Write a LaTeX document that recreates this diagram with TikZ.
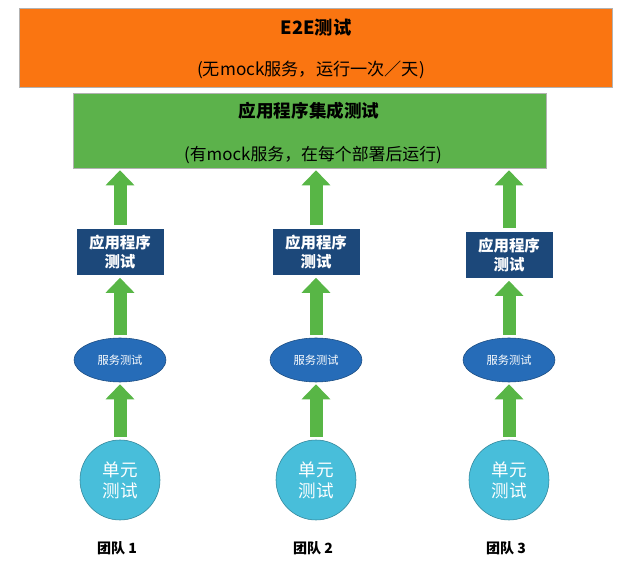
\documentclass[tikz,border=0pt]{standalone}
\usepackage{fontspec}
\setmainfont{Noto Sans CJK SC}
\usetikzlibrary{arrows.meta,shapes.geometric}
\definecolor{e2eorange}{RGB}{250,117,17}
\definecolor{integgreen}{RGB}{92,178,75}
\definecolor{appnavy}{RGB}{28,72,122}
\definecolor{svcblue}{RGB}{38,108,184}
\definecolor{unitcyan}{RGB}{72,190,218}
\definecolor{arrowgreen}{RGB}{88,182,70}
\tikzset{
    bigbox/.style={draw=gray!60,minimum width=#1,inner sep=0pt},
    appbox/.style={fill=appnavy,draw=white,minimum width=88*0.025cm,minimum height=47*0.025cm,
        text=white,font=\fontsize{11}{13}\selectfont\bfseries,align=center,inner sep=0pt},
    svc/.style={ellipse,fill=svcblue,draw=svcblue!70!black,minimum width=92*0.025cm,
        minimum height=44*0.025cm,text=white,font=\fontsize{8}{10}\selectfont,inner sep=0pt},
    unit/.style={circle,fill=unitcyan,draw=unitcyan!70!black,minimum size=80*0.025cm,
        text=white,font=\fontsize{12.5}{15}\selectfont,align=center,inner sep=0pt},
    upflow/.style={-{Triangle[length=15*0.025cm,width=28*0.025cm]},line width=13*0.025cm,
        arrowgreen,shorten <=3*0.025cm,shorten >=2*0.025cm},
}
\begin{document}
\begin{tikzpicture}[x=0.025cm,y=-0.025cm]
    \useasboundingbox (0,0) rectangle (640,576);
    % top boxes
    \node[bigbox=593*0.025cm,minimum height=79*0.025cm,fill=e2eorange] (e2e) at (316,48) {};
    \node[font=\fontsize{13}{15}\selectfont\bfseries] (e2etitle) at (316,28) {E2E测试};
    \node[font=\fontsize{12.2}{14}\selectfont] (e2enote) at (311,70) {(无mock服务，运行一次／天)};
    \node[bigbox=473*0.025cm,minimum height=75*0.025cm,fill=integgreen] (integ) at (310,130.5) {};
    \node[font=\fontsize{12.5}{15}\selectfont\bfseries] (integtitle) at (309,111) {应用程序集成测试};
    \node[font=\fontsize{12}{14}\selectfont] (integnote) at (313,155) {(有mock服务，在每个部署后运行)};
    % one column per team
    \foreach \i/\x/\y in {1/120/252,2/316/252,3/509/255} {
        \node[appbox] (app\i) at (\x,\y) {应用程序\\测试};
        \node[svc] (svc\i) at (\x,360) {服务测试};
        \node[unit] (unit\i) at (\x,480) {单元\\测试};
        \node[font=\fontsize{10}{12}\selectfont\bfseries] (team\i) at (\x-3,548) {团队 \i};
        \draw[upflow] (unit\i.north) -- (svc\i.south);
        \draw[upflow] (svc\i.north) -- (app\i.south);
        \draw[upflow] (app\i.north) -- (app\i.north |- integ.south);
    }
\end{tikzpicture}
\end{document}
